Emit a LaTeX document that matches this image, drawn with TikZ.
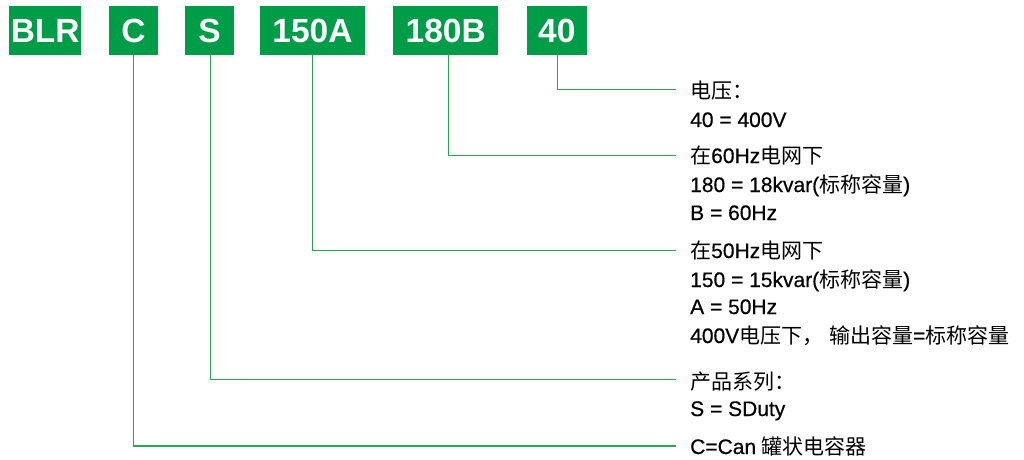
\documentclass[tikz,border=0pt]{standalone}
\usepackage{fontspec}
\setmainfont{Liberation Sans}
\newfontfamily\latinfont{Liberation Sans}[FakeBold=0.5]
\newfontfamily\cjkfont{Noto Sans CJK SC}
\newcommand{\zhtxt}[1]{{\cjkfont #1}}
\definecolor{boxgreen}{RGB}{0,157,72}
\definecolor{linegreen}{RGB}{40,168,85}
\begin{document}
\begin{tikzpicture}[x=1pt,y=-1pt,
  codebox/.style={fill=boxgreen,text=white,inner sep=0pt,minimum height=48.5pt,
    font=\fontsize{33.5}{36}\selectfont\bfseries,text height=24pt,text depth=0pt,anchor=north},
  conn/.style={draw=linegreen,line width=1.4pt},
  desc/.style={anchor=base west,inner sep=0pt,font=\latinfont\fontsize{21}{24}\selectfont}]
\useasboundingbox (0,0) rectangle (1024,459);
% code boxes
\node[codebox,minimum width=72pt]   (blr) at (45.2,6) {BLR};
\node[codebox,minimum width=48.7pt] (c)   at (133.5,6) {C};
\node[codebox,minimum width=49pt]   (s)   at (209.5,6) {S};
\node[codebox,minimum width=105pt]  (a)   at (312.5,6) {150A};
\node[codebox,minimum width=104.5pt](b)   at (445.7,6) {180B};
\node[codebox,minimum width=60.5pt] (v)   at (556.8,6) {40};
% connector ends
\coordinate (ev) at (676,89.5);
\coordinate (eb) at (676,155.5);
\coordinate (ea) at (676,250.5);
\coordinate (es) at (676,379.5);
\coordinate (ec) at (676,446);
\draw[conn] ([xshift=0.7pt]v.south) |- (ev);
\draw[conn] ([xshift=2.6pt]b.south) |- (eb);
\draw[conn] (a.south) |- (ea);
\draw[conn] ([xshift=0.8pt]s.south) |- (es);
\draw[conn] (c.south) |- (ec);
% descriptions
\node[desc] (t1)  at (690,98)  {\zhtxt{电压：}};
\node[desc] (t2)  at (690,127) {40 = 400V};
\node[desc] (t3)  at (690,163) {\zhtxt{在}60Hz\zhtxt{电网下}};
\node[desc] (t4)  at (690,192) {180 = 18kvar(\zhtxt{标称容量})};
\node[desc] (t5)  at (690,220) {B = 60Hz};
\node[desc] (t6)  at (690,258) {\zhtxt{在}50Hz\zhtxt{电网下}};
\node[desc] (t7)  at (690,287) {150 = 15kvar(\zhtxt{标称容量})};
\node[desc] (t8)  at (690,314) {A = 50Hz};
\node[desc] (t9)  at (690,343) {400V\zhtxt{电压下，} \zhtxt{输出容量}=\zhtxt{标称容量}};
\node[desc] (t10) at (690,389) {\zhtxt{产品系列：}};
\node[desc] (t11) at (690,416) {S = SDuty};
\node[desc] (t12) at (690,454) {C=Can \zhtxt{罐状电容器}};
\end{tikzpicture}
\end{document}
